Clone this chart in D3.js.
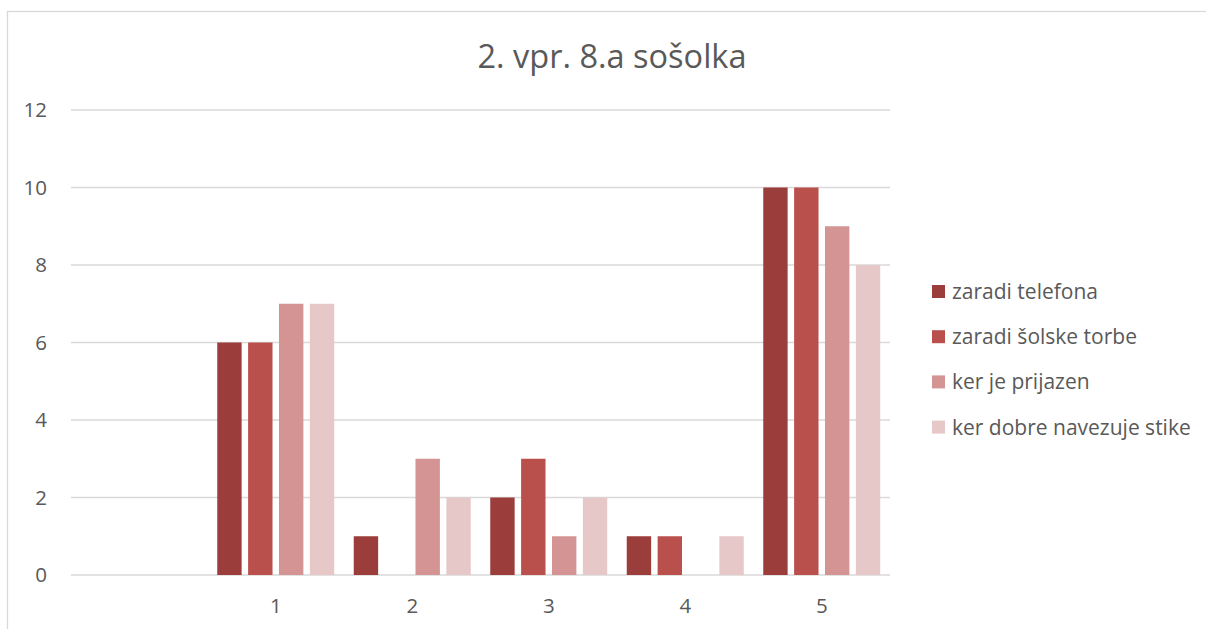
<!DOCTYPE html>
<meta charset="utf-8">
<style>
body { margin: 0; background: #fff; }
svg { display: block; font-family: "Open Sans", sans-serif; }
.grid line { stroke: #d9d9d9; stroke-width: 1.3px; }
.axis text { fill: #595959; font-size: 20.5px; font-family: "Open Sans", sans-serif; }
</style>
<svg width="1206" height="629"></svg>
<script src="https://d3js.org/d3.v7.min.js"></script>
<script>
// data
var categories = ["", "1", "2", "3", "4", "5"];
var seriesNames = ["zaradi telefona", "zaradi šolske torbe", "ker je prijazen", "ker dobre navezuje stike"];
var telefona = [null, 6, 1, 2, 1, 10];
var torbe    = [null, 6, 0, 3, 1, 10];
var prijazen = [null, 7, 3, 1, 0, 9];
var stike    = [null, 7, 2, 2, 1, 8];
var yTicks = [0, 2, 4, 6, 8, 10, 12];
var colors = ["#9b3d3a", "#b9504c", "#d49493", "#e6c8c9"];

var seriesValues = [telefona, torbe, prijazen, stike];

var svg = d3.select("svg");

// outer frame
svg.append("rect")
  .attr("x", 7.5).attr("y", 11.5)
  .attr("width", 1220).attr("height", 640)
  .attr("fill", "none")
  .attr("stroke", "#d9d9d9")
  .attr("stroke-width", 1.3);

var plotLeft = 71, plotRight = 890, plotTop = 110, plotBottom = 575;

var x0 = d3.scaleBand().domain(categories).range([plotLeft, plotRight]).padding(0);
var groupW = 117;
var x1 = d3.scaleBand().domain(seriesNames).range([0, groupW]).paddingInner(0.21);
var y = d3.scaleLinear().domain([0, 12]).range([plotBottom, plotTop]);

// gridlines
svg.append("g").attr("class", "grid")
  .selectAll("line")
  .data(yTicks)
  .enter().append("line")
  .attr("x1", plotLeft).attr("x2", plotRight)
  .attr("y1", function(d) { return y(d); })
  .attr("y2", function(d) { return y(d); });

// y axis labels
var yAxis = d3.axisLeft(y).tickValues(yTicks).tickSize(0).tickPadding(24);
svg.append("g").attr("class", "axis")
  .attr("transform", "translate(" + plotLeft + ",0)")
  .call(yAxis)
  .call(function(g) { g.select(".domain").remove(); });

// x axis labels
var xAxis = d3.axisBottom(x0).tickSize(0).tickPadding(23);
svg.append("g").attr("class", "axis")
  .attr("transform", "translate(0," + plotBottom + ")")
  .call(xAxis)
  .call(function(g) { g.select(".domain").remove(); });

// bars
var rows = [];
categories.forEach(function(c, i) {
  seriesNames.forEach(function(s, j) {
    var v = seriesValues[j][i];
    if (v !== null) rows.push({cat: c, series: s, value: v, idx: j});
  });
});

svg.append("g")
  .selectAll("rect")
  .data(rows)
  .enter().append("rect")
  .attr("x", function(d) { return x0(d.cat) + x0.bandwidth() / 2 - groupW / 2 + x1(d.series); })
  .attr("y", function(d) { return y(d.value); })
  .attr("width", x1.bandwidth())
  .attr("height", function(d) { return y(0) - y(d.value); })
  .attr("fill", function(d) { return colors[d.idx]; });

// title
svg.append("text")
  .attr("x", 612).attr("y", 68)
  .attr("text-anchor", "middle")
  .attr("fill", "#595959")
  .style("font-size", "32.5px")
  .text("2. vpr. 8.a sošolka");

// legend
var legend = svg.append("g").selectAll("g")
  .data(seriesNames)
  .enter().append("g")
  .attr("transform", function(d, i) { return "translate(932," + (292 + i * 45.2) + ")"; });

legend.append("rect")
  .attr("x", 0).attr("y", -7)
  .attr("width", 13).attr("height", 13)
  .attr("fill", function(d, i) { return colors[i]; });

legend.append("text")
  .attr("x", 20).attr("y", 7)
  .attr("fill", "#595959")
  .style("font-size", "21px")
  .text(function(d) { return d; });
</script>
